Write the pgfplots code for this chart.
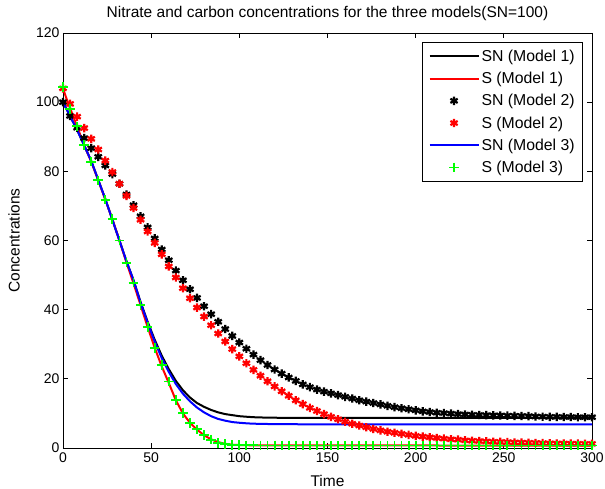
\documentclass[border=0pt]{standalone}
\usepackage{pgfplots}
\pgfplotsset{compat=1.18}
\usepackage{fontspec}
\setmainfont{Liberation Sans}
\definecolor{mgreen}{rgb}{0,1,0}
\begin{document}
\begin{tikzpicture}
\useasboundingbox (-63bp,-41bp) rectangle (542bp,448bp);
\begin{axis}[
  scale only axis, width=529bp, height=415bp,
  at={(0,0)}, anchor=south west,
  xmin=0, xmax=300, ymin=0, ymax=120,
  xtick={0,50,...,300}, ytick={0,20,...,120},
  tick align=inside, major tick length=5bp,
  axis line style={line width=0.8bp},
  tick style={line width=0.8bp, black},
  /pgf/number format/assume math mode=true,
  ticklabel style={font=\fontsize{14bp}{16bp}\selectfont},
  xticklabel style={yshift=-1bp},
  label style={font=\fontsize{15.5bp}{17bp}\selectfont},
  title style={font=\fontsize{15.5bp}{17bp}\selectfont, at={(axis description cs:0.5,1)}, anchor=center, yshift=14bp},
  title={Nitrate and carbon concentrations for the three models(SN=100)},
  xlabel={Time}, ylabel={Concentrations},
  xlabel style={at={(axis description cs:0.5,0)}, anchor=center, yshift=-33bp},
  ylabel style={at={(axis description cs:0,0.5)}, anchor=center, yshift=49bp},
  legend style={at={(1,1)}, anchor=north east, xshift=-9bp, yshift=-9bp,
    font=\fontsize{15.8bp}{18bp}\selectfont, draw=black, line width=0.8bp,
    row sep=5.3bp, inner xsep=6bp, inner ysep=5.5bp},
  legend cell align=left,
  legend image code/.code={\draw[mark repeat=2,mark phase=2,#1] plot coordinates {(0bp,0bp) (24.5bp,0bp) (49bp,0bp)};},
]
% SN (Model 1)
\addplot[black, line width=2bp, mark=none] coordinates {
(0,100)(4,96)(8,92)(12,87.5)(16,83)(20,77.5)(24,72)(28,66)(32,60)(36,54)(40,48.5)(44,42.2)(48,36.5)(52,31.3)(56,26.7)(60,22.8)(64,19.4)(68,16.7)(72,14.6)(76,13)(80,11.9)(84,11)(88,10.3)(92,9.8)(96,9.5)(100,9.2)(105,9.0)(110,8.85)(120,8.75)(140,8.7)(300,8.7)};
\addlegendentry{SN (Model 1)}
% S (Model 1)
\addplot[red, line width=2bp, mark=none] coordinates {
(0,104)(2,101)(4,98.3)(8,93)(12,87.6)(16,82.8)(20,77.4)(24,71.8)(28,66.2)(32,60)(36,53.6)(40,47.6)(44,41.3)(48,35)(52,29)(56,23.6)(60,18.8)(64,13.8)(68,10)(72,7.3)(76,5.3)(80,3.7)(84,2.5)(88,1.7)(92,1.2)(96,0.95)(100,0.85)(110,0.75)(300,0.7)};
\addlegendentry{S (Model 1)}
% SN (Model 2)
\addplot[black, only marks, mark=asterisk, mark size=4.2bp, line width=2.2bp] coordinates {
(0,100)(4,96)(8,92.6)(12,89.6)(16,86.7)(20,84.2)(24,81.7)(28,79.2)(32,76.4)(36,73.3)(40,70.2)(44,67)(48,63.8)(52,60.6)(56,57.4)(60,54.3)(64,51.3)(68,48.5)(72,45.9)(76,43.4)(80,41.0)(84,38.7)(88,36.5)(92,34.4)(96,32.4)(100,30.5)(104,28.7)(108,27.0)(112,25.4)(116,24.0)(120,22.7)(124,21.5)(128,20.4)(132,19.4)(136,18.4)(140,17.6)(144,16.9)(148,16.3)(152,15.8)(156,15.3)(160,14.8)(164,14.3)(168,13.8)(172,13.4)(176,13.0)(180,12.6)(184,12.2)(188,11.8)(192,11.5)(196,11.2)(200,10.9)(204,10.6)(208,10.4)(212,10.2)(216,10.1)(220,9.95)(224,9.8)(228,9.7)(232,9.6)(236,9.55)(240,9.5)(244,9.45)(248,9.4)(252,9.35)(256,9.3)(260,9.25)(264,9.2)(268,9.1)(272,9.05)(276,9.0)(280,9.0)(284,8.95)(288,8.95)(292,8.9)(296,8.9)(300,8.9)};
\addlegendentry{SN (Model 2)}
% S (Model 2)
\addplot[red, only marks, mark=asterisk, mark size=4.2bp, line width=2.2bp] coordinates {
(0,104)(4,99.5)(8,95.8)(12,92.5)(16,89.4)(20,86.3)(24,83.1)(28,79.8)(32,76.4)(36,72.9)(40,69.4)(44,66)(48,62.6)(52,59.3)(56,56)(60,52.5)(64,49.3)(68,46.2)(72,43.3)(76,40.6)(80,38)(84,35.5)(88,33.1)(92,30.8)(96,28.6)(100,26.5)(104,24.5)(108,22.6)(112,20.9)(116,19.3)(120,17.8)(124,16.4)(128,15.1)(132,13.8)(136,12.7)(140,11.6)(144,10.7)(148,9.8)(152,9.0)(156,8.3)(160,7.6)(164,7.0)(168,6.5)(172,6.0)(176,5.5)(180,5.1)(184,4.7)(188,4.4)(192,4.1)(196,3.8)(200,3.5)(204,3.3)(208,3.1)(212,2.9)(216,2.7)(220,2.5)(224,2.4)(228,2.2)(232,2.1)(236,2.0)(240,1.9)(244,1.8)(248,1.75)(252,1.7)(256,1.6)(260,1.55)(264,1.5)(268,1.45)(272,1.4)(276,1.35)(280,1.3)(284,1.3)(288,1.25)(292,1.25)(296,1.2)(300,1.2)};
\addlegendentry{S (Model 2)}
% SN (Model 3)
\addplot[blue, line width=2bp, mark=none] coordinates {
(0,100)(4,96)(8,92)(12,87.5)(16,83)(20,77.5)(24,72)(28,66)(32,60)(36,54)(40,48.5)(44,42)(48,36.2)(52,30.8)(56,26)(60,22)(64,18.5)(68,15.7)(72,13.5)(76,11.7)(80,10.3)(84,9.2)(88,8.4)(92,7.9)(96,7.5)(100,7.3)(105,7.1)(110,7.0)(120,6.9)(140,6.85)(300,6.85)};
\addlegendentry{SN (Model 3)}
% S (Model 3)
\addplot[mgreen, only marks, mark=+, mark size=4.8bp, line width=1.8bp] coordinates {
(0,104.3)(4,98)(8,93)(12,87.6)(16,82.8)(20,77.4)(24,71.8)(28,66.2)(32,60)(36,53.6)(40,47.8)(44,41.3)(48,35)(52,29)(56,24)(60,19.2)(64,13.8)(68,10.2)(72,7.3)(76,5.4)(80,3.8)(84,2.4)(88,1.5)(92,1.1)(96,0.9)(100,0.8)(104,0.78)(108,0.76)(112,0.75)(116,0.74)(120,0.73)(124,0.72)(128,0.72)(132,0.71)(136,0.71)(140,0.7)(144,0.7)(148,0.7)(152,0.7)(156,0.7)(160,0.7)(164,0.7)(168,0.7)(172,0.7)(176,0.7)(180,0.7)(184,0.7)(188,0.7)(192,0.7)(196,0.7)(200,0.7)(204,0.7)(208,0.7)(212,0.7)(216,0.7)(220,0.7)(224,0.7)(228,0.7)(232,0.7)(236,0.7)(240,0.7)(244,0.7)(248,0.7)(252,0.7)(256,0.7)(260,0.7)(264,0.7)(268,0.7)(272,0.7)(276,0.7)(280,0.7)(284,0.7)(288,0.7)(292,0.7)(296,0.7)(300,0.7)};
\addlegendentry{S (Model 3)}
\end{axis}
\end{tikzpicture}
\end{document}
